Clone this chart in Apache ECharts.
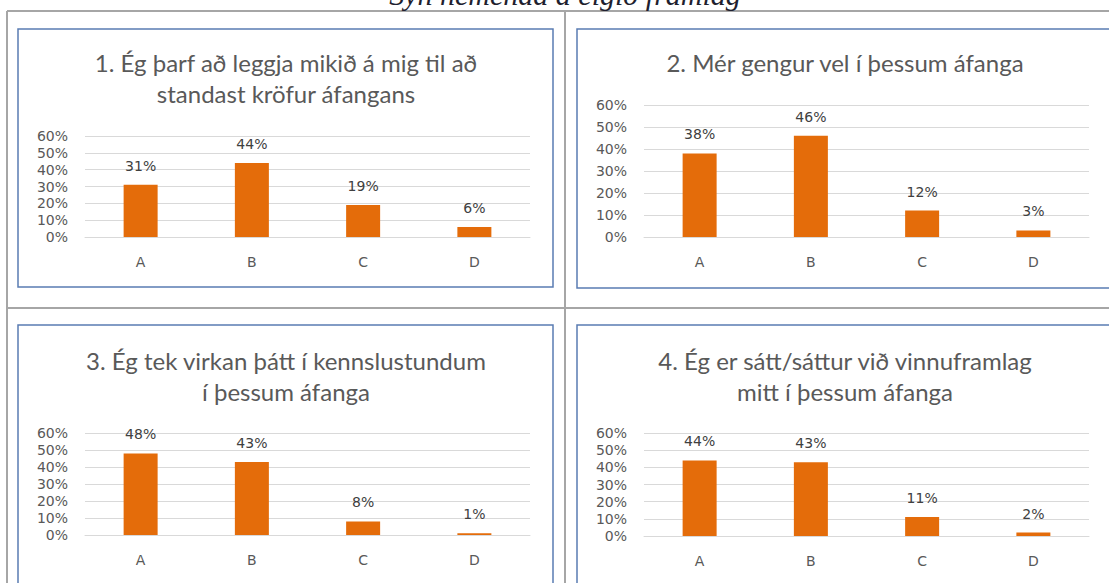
<!DOCTYPE html>
<html>
<head>
<meta charset="utf-8">
<script src="https://cdn.jsdelivr.net/npm/echarts@6/dist/echarts.min.js"></script>
<style>
html,body{margin:0;padding:0;background:#fff;}
#c{width:1109px;height:583px;}
</style>
</head>
<body>
<div id="c"></div>
<script>
// ---- data ----
const categories = ['A', 'B', 'C', 'D'];
const q1Values = [31, 44, 19, 6];
const q2Values = [38, 46, 12, 3];
const q3Values = [48, 43, 8, 1];
const q4Values = [44, 43, 11, 2];
const chartTitles = [
  '1. Ég þarf að leggja mikið á mig til að\nstandast kröfur áfangans',
  '2. Mér gengur vel í þessum áfanga',
  '3. Ég tek virkan þátt í kennslustundum\ní þessum áfanga',
  '4. Ég er sátt/sáttur við vinnuframlag\nmitt í þessum áfanga'
];
const pageTitle = 'Sýn nemenda á eigið framlag';
const yMax = 60;
const yStep = 10;

// ---- layout ----
const allValues = [q1Values, q2Values, q3Values, q4Values];
const grids = [
  {left: 85, top: 136, width: 445, height: 101},
  {left: 644, top: 105, width: 445, height: 132},
  {left: 85, top: 433, width: 445, height: 102},
  {left: 644, top: 433, width: 445, height: 103}
];
const titlePos = [
  {x: 286, y: 47},
  {x: 845, y: 47},
  {x: 286, y: 345},
  {x: 845, y: 345}
];
const FONT = 'Lato';
const SMALL = 'DejaVu Sans';

const option = {
  animation: false,
  backgroundColor: '#ffffff',
  title: chartTitles.map((t, i) => ({
    text: t,
    left: titlePos[i].x,
    top: titlePos[i].y,
    textAlign: 'center',
    padding: 0,
    textStyle: {
      fontFamily: FONT, fontSize: 24, fontWeight: 'normal',
      color: '#595959', lineHeight: 31
    }
  })),
  grid: grids.map(g => Object.assign({containLabel: false}, g)),
  xAxis: grids.map((g, i) => ({
    type: 'category', gridIndex: i, data: categories,
    axisTick: {show: false},
    axisLine: {show: true, lineStyle: {color: '#d9d9d9', width: 1}},
    axisLabel: {color: '#595959', fontFamily: SMALL, fontSize: 14, margin: 18}
  })),
  yAxis: grids.map((g, i) => ({
    type: 'value', gridIndex: i, min: 0, max: yMax, interval: yStep,
    axisLine: {show: false}, axisTick: {show: false},
    splitLine: {lineStyle: {color: '#d9d9d9', width: 1}},
    axisLabel: {color: '#595959', fontFamily: SMALL, fontSize: 14, margin: 17,
      formatter: '{value}%'}
  })),
  series: allValues.map((vals, i) => ({
    type: 'bar', xAxisIndex: i, yAxisIndex: i, data: vals,
    barWidth: 34,
    itemStyle: {color: '#E46C0A'},
    label: {show: true, position: 'top', distance: 12, formatter: '{c}%',
      color: '#404040', fontFamily: SMALL, fontSize: 14}
  })),
  graphic: [
    // table lines
    {type: 'line', shape: {x1: 7, y1: 11, x2: 1109, y2: 11}, style: {stroke: '#a6a6a6', lineWidth: 2}},
    {type: 'line', shape: {x1: 7, y1: 11, x2: 7, y2: 583}, style: {stroke: '#a6a6a6', lineWidth: 2}},
    {type: 'line', shape: {x1: 565, y1: 11, x2: 565, y2: 583}, style: {stroke: '#a6a6a6', lineWidth: 2}},
    {type: 'line', shape: {x1: 7, y1: 308, x2: 1109, y2: 308}, style: {stroke: '#a6a6a6', lineWidth: 2}},
    // chart boxes
    {type: 'rect', shape: {x: 18, y: 29, width: 535, height: 258}, style: {fill: 'none', stroke: '#5a7cb3', lineWidth: 1.5}},
    {type: 'rect', shape: {x: 577, y: 29, width: 536, height: 259}, style: {fill: 'none', stroke: '#5a7cb3', lineWidth: 1.5}},
    {type: 'rect', shape: {x: 18, y: 325, width: 535, height: 300}, style: {fill: 'none', stroke: '#5a7cb3', lineWidth: 1.5}},
    {type: 'rect', shape: {x: 577, y: 325, width: 536, height: 300}, style: {fill: 'none', stroke: '#5a7cb3', lineWidth: 1.5}},
    // page title (clipped at the top edge, as in the reference)
    {type: 'text', x: 565, y: -6, style: {text: pageTitle, font: 'italic 30px "Liberation Serif"',
      fill: '#1f1f2f', align: 'center', textAlign: 'center', verticalAlign: 'middle', textVerticalAlign: 'middle'}}
  ]
};

const chart = echarts.init(document.getElementById('c'), null, {renderer: 'svg'});
chart.setOption(option);
</script>
</body>
</html>
